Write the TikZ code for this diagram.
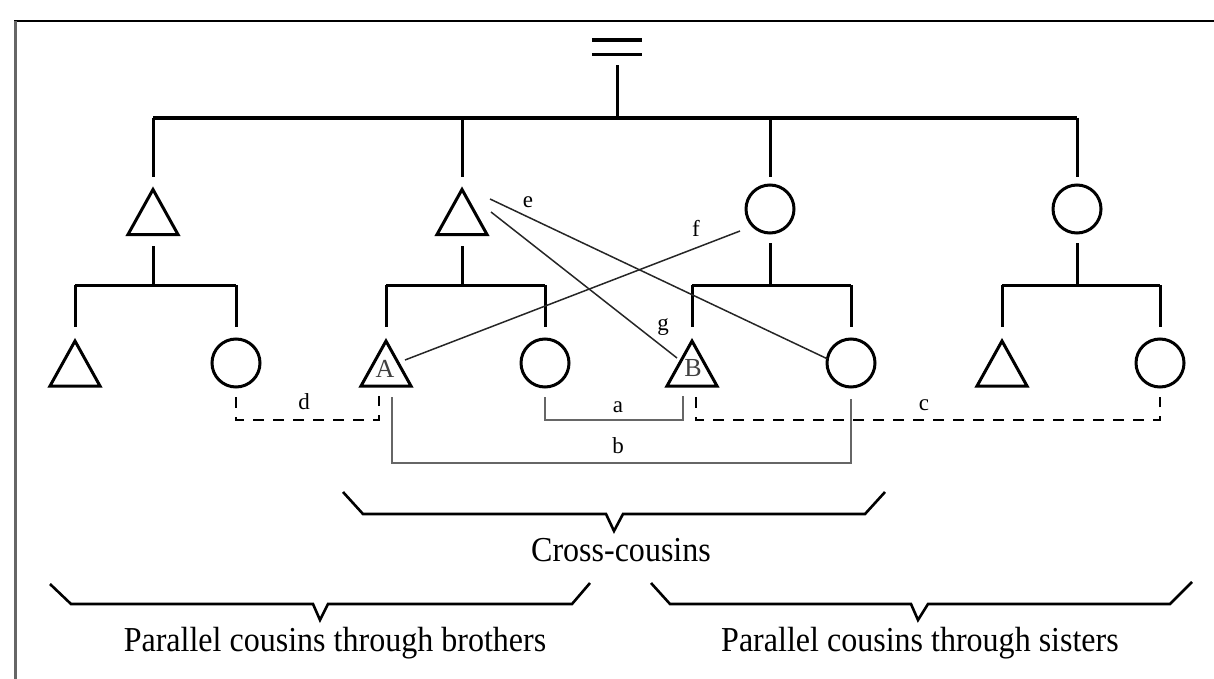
\documentclass[tikz,border=0pt]{standalone}
\usepackage{fontspec}
\setmainfont{Liberation Serif}
\usetikzlibrary{calc}
\newcommand{\narrowtext}[1]{\scalebox{0.915}[1]{#1}}
\begin{document}
\begin{tikzpicture}[x=1pt,y=-1pt,
  tree/.style={line width=3pt},
  male/.style={minimum width=50pt, minimum height=45pt, inner sep=0pt, outer sep=0pt},
  female/.style={circle, draw, line width=3pt, minimum size=48pt, inner sep=0pt, outer sep=0pt},
  tri/.style={line width=3pt, line join=miter},
  egolab/.style={font=\fontsize{26}{26}\selectfont, text=black!75, inner sep=0pt},
  kin/.style={line width=1.5pt, black!85},
  pair/.style={line width=2pt, black!60},
  parl/.style={line width=2.8pt, dash pattern=on 11pt off 9pt},
  lab/.style={font=\fontsize{23}{23}\selectfont, inner sep=0pt},
  brace/.style={line width=2.6pt, line join=miter},
  caption/.style={font=\fontsize{35}{35}\selectfont, anchor=base, inner sep=0pt},
]
\useasboundingbox (0,0) rectangle (1214,679);

% frame
\draw[line width=2.5pt] (14,21) -- (1214,21);
\draw[line width=3pt, black!60] (15,21) -- (15,679);

% marriage sign
\node[minimum width=50pt, minimum height=14pt, inner sep=0pt] (m) at (617,47) {};
\draw[line width=4pt] (m.north west) -- (m.north east);
\draw[line width=3pt] (m.south west) -- (m.south east);

% first generation of siblings
\node[male] (t1) at (153,212) {};
\node[male] (t2) at (462,212) {};
\node[female] (w3) at (770,209) {};
\node[female] (w4) at (1077,209) {};

% their children
\node[male] (s1) at (75,363.5) {};
\node[female] (d1) at (236,363) {};
\node[male] (A) at (386,363.5) {};
\node[female] (d2) at (545,363) {};
\node[male] (B) at (692,363.5) {};
\node[female] (d3) at (851,363) {};
\node[male] (s7) at (1002,363.5) {};
\node[female] (d4) at (1160,363) {};

\foreach \n in {t1,t2,s1,A,B,s7}
  \draw[tri] (\n.south west) -- (\n.north) -- (\n.south east) -- cycle;

\node[egolab] (la) at ($(A)+(-1,5)$) {A};
\node[egolab] (lb) at ($(B)+(1,5)$) {B};

% descent lines
\coordinate (j0) at (617,118);
\draw[tree, shorten <=11pt] (m.south) -- (j0);
\draw[tree, line width=3.5pt] (t1 |- j0) -- (w4 |- j0);
\foreach \n in {t1,t2}
  \draw[tree, shorten >=12pt] (\n |- j0) -- (\n.north);
\foreach \n in {w3,w4}
  \draw[tree, shorten >=8pt] (\n |- j0) -- (\n.north);

\coordinate (f0) at (0,285);
\foreach \p/\a/\b/\g in {t1/s1/d1/11.5, t2/A/d2/11.5, w3/B/d3/10, w4/s7/d4/10} {
  \draw[tree, shorten <=\g pt] (\p.south) -- (\p |- f0);
  \draw[tree] (\a |- f0) -- (\b |- f0);
  \draw[tree, shorten >=14pt] (\a |- f0) -- (\a.north);
  \draw[tree, shorten >=12pt] (\b |- f0) -- (\b.north);
}

% cousin links
\draw[parl] ($(d1.south)+(0,10)$) -- ++(0,23) -| ($(A.south)+(-7,10)$);
\draw[pair] ($(d2.south)+(0,10)$) -- ++(0,23) -| ($(B.south)+(-9,10)$);
\draw[pair] ($(A.south)+(6,11)$) -- ($(A.south)+(6,77)$) -| ($(d3.south)+(0,12)$);
\draw[parl] ($(B.south)+(4,11)$) -- ($(B.south)+(4,34)$) -| ($(d4.south)+(0,10)$);

\draw[kin] ($(t2)+(28,-13)$) -- (d3.170);
\draw[kin] ($(t2)+(29,0)$) -- ($(B)+(-15,-5.5)$);
\draw[kin] ($(w3)+(-30,22)$) -- ($(A)+(19,-3.5)$);

\node[lab] (le) at (528,202) {e};
\node[lab] (lf) at (696,228) {f};
\node[lab] (lg) at (663,327) {g};
\node[lab] (ld) at (304,402) {d};
\node[lab] (lA) at (618,407) {a};
\node[lab] (lB) at (618,446) {b};
\node[lab] (lc) at (924,405) {c};

% braces and captions
\draw[brace] (343,492) -- (363,514) -- (606,514) -- (614,531) -- (623,514) -- (865,514) -- (885,492);
\node[caption] (cross) at (621,561) {\narrowtext{Cross-cousins}};
\draw[brace] (50,584) -- (71,604) -- (313,604) -- (320,620) -- (328,604) -- (572,604) -- (590,583);
\node[caption] (pbro) at (335,651) {\narrowtext{Parallel cousins through brothers}};
\draw[brace] (651,583) -- (670,604) -- (911,604) -- (918,620) -- (928,604) -- (1170,604) -- (1192,582);
\node[caption] (psis) at (920,651) {\narrowtext{Parallel cousins through sisters}};
\end{tikzpicture}
\end{document}
